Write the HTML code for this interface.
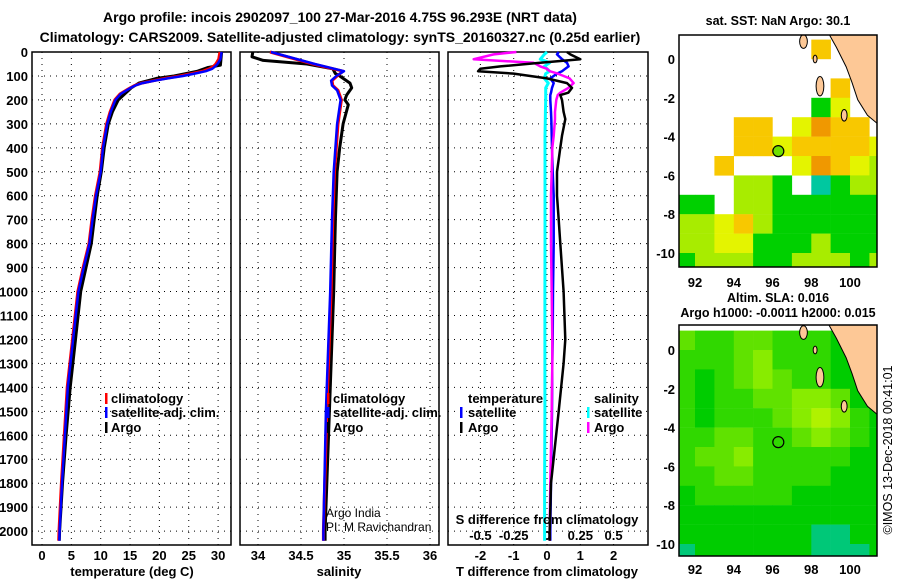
<!DOCTYPE html>
<html><head><meta charset="utf-8"><style>
body{margin:0;background:#fff;}
svg{display:block;font-family:"Liberation Sans",Arial,sans-serif;font-weight:bold;}
text{font-size:13px;fill:#000;}
</style></head><body>
<svg id="c" width="900" height="580" viewBox="0 0 900 580" xmlns="http://www.w3.org/2000/svg">
<text x="340" y="22" text-anchor="middle" style="font-size:14px">Argo profile: incois 2902097_100 27-Mar-2016 4.75S 96.293E (NRT data)</text>
<text x="340" y="42" text-anchor="middle" style="font-size:14px">Climatology: CARS2009. Satellite-adjusted climatology: synTS_20160327.nc (0.25d earlier)</text>
<g id="g"></g>
</svg>
<script>
// ---------- data ----------
const depthTicks=[0,100,200,300,400,500,600,700,800,900,1000,1100,1200,1300,1400,1500,1600,1700,1800,1900,2000];
const tempTicks=[0,5,10,15,20,25,30];
const salTicks=[34,34.5,35,35.5,36];
const salTickLabels=['34','34.5','35','35.5','36'];
const tdTicks=[-2,-1,0,1,2];
const sdTicks=[-0.5,-0.25,0,0.25,0.5];
const sdTickLabels=['-0.5','-0.25','0','0.25','0.5'];

const climDepth=[0,30,50,60,70,80,90,100,110,120,130,140,150,175,200,250,300,400,500,600,700,800,900,1000,1200,1400,1600,1800,2000,2040];
const climTemp=[30.3,30.1,29.6,29.2,28.5,27.4,25.5,23.5,21,19,17,15.8,15,13.3,12.4,11.6,11,10.3,9.9,9.1,8.5,8,7,6.1,5.2,4.3,3.8,3.3,2.9,2.85];
const satTemp=[30.6,30.4,29.9,29.5,29,27.9,26,24,21.4,19.2,17.1,15.9,15.1,13.4,12.5,11.7,11.1,10.4,10,9.2,8.6,8.1,7.1,6.2,5.3,4.4,3.9,3.4,3,2.95];
const argoDepth=[0,55,65,80,100,110,130,150,200,250,300,400,500,600,700,800,900,1000,1200,1400,1600,1800,2000,2040];
const argoTemp=[30.6,30.4,28.2,26.5,22.5,19.5,16.5,15.2,13,12,11.3,10.6,10.1,9.4,8.9,8.4,7.5,6.6,5.7,4.8,4.1,3.5,3,2.95];

const salDepth=[0,50,80,100,120,140,160,200,300,400,500,700,1000,1500,2000,2040];
const climSal=[34.14,34.64,34.99,34.92,34.86,34.87,34.93,34.97,34.93,34.91,34.89,34.87,34.85,34.8,34.76,34.76];
const satSal=[34.15,34.66,35.0,34.91,34.85,34.86,34.92,34.96,34.92,34.9,34.88,34.86,34.84,34.79,34.76,34.76];
const argoSalDepth=[0,20,35,50,70,90,100,130,150,180,200,220,300,400,500,700,1000,1500,2000,2040];
const argoSal=[33.94,33.93,34.06,34.57,34.87,34.9,34.95,35.07,35.09,35.03,35.01,35.05,34.99,34.95,34.92,34.9,34.88,34.83,34.78,34.78];

const dDepth=[0,10,30,45,60,70,80,90,110,130,150,170,180,200,250,280,350,400,500,600,700,800,1000,1200,1300,1500,1800,2000,2040];
const tDiffArgo=[0.6,0.7,1.0,-0.2,-1.4,-2.0,-2.07,-1.0,0,0.6,0.75,0.64,0.4,0.45,0.5,0.55,0.45,0.4,0.3,0.3,0.35,0.4,0.5,0.55,0.5,0.35,0.12,0.08,0.08];
const tDiffSat=[0.35,0.3,0.45,0.6,0.65,0.55,0.45,0.3,0.1,0.2,0.15,0.12,0.1,0.1,0.12,0.13,0.14,0.15,0.17,0.2,0.2,0.2,0.18,0.17,0.16,0.15,0.12,0.1,0.1];
const sDiffArgo=[-0.23,-0.4,-0.55,-0.1,-0.05,0,0.02,0.08,0.17,0.2,0.16,0.1,0.08,0.07,0.06,0.06,0.05,0.04,0.035,0.03,0.03,0.03,0.035,0.04,0.04,0.035,0.025,0.02,0.02];
const sDiffSat=[0,-0.02,-0.05,0.02,-0.02,0,0.02,-0.01,-0.02,0.01,-0.01,-0.01,-0.01,-0.01,-0.012,-0.013,-0.015,-0.015,-0.015,-0.015,-0.015,-0.015,-0.016,-0.016,-0.016,-0.016,-0.018,-0.018,-0.018];

const mapLonTicks=[92,94,96,98,100];
const mapLatTicks=[0,-2,-4,-6,-8,-10];
// SST grid: rows lat 1..-10 (top of cell), cols lon 91..101; 0 = missing
const sstGrid=[
[0,0,0,0,0,0,0,5,0,0,0],
[0,0,0,0,0,0,0,0,0,0,0],
[0,0,0,0,0,0,0,0,5,0,0],
[0,0,0,0,0,0,0,2,4,0,0],
[0,0,0,5,5,0,4,6,5,5,0],
[0,0,0,5,5,4,5,5,5,5,4],
[0,0,5,0,0,0,4,6,5,4,3],
[0,0,0,3,3,2,0,1,2,3,3],
[2,2,0,3,3,2,2,2,2,2,2],
[3,3,4,5,3,2,2,2,2,2,2],
[3,3,4,4,2,2,2,3,2,2,2],
[2,3,3,3,2,2,3,3,3,2,3]];
const slaGrid=[
[4,3,3,4,4,3,3,3,2,2,2],
[3,3,3,4,5,3,3,3,2,2,2],
[3,2,3,4,5,4,3,3,2,2,2],
[3,2,3,3,4,4,5,5,4,2,2],
[3,2,3,3,3,4,5,6,5,3,2],
[3,3,4,4,3,3,4,5,4,3,2],
[3,4,4,5,3,3,3,3,3,2,2],
[3,3,4,4,3,3,3,3,2,2,2],
[2,3,3,3,3,3,2,2,2,2,2],
[2,2,2,2,2,2,2,2,2,2,2],
[2,2,2,2,2,2,2,1,1,2,2],
[1,2,2,2,2,2,2,1,1,1,2]];
const sstColors=['none','#00c8a0','#00d000','#a8ec00','#e4f400','#f8c800','#f09800'];
const slaColors=['none','#00c878','#00cc00','#30d800','#60e200','#88ec00','#b0f200'];
const floatLon=96.3, floatLat=-4.75;

// ---------- helpers ----------
const NS='http://www.w3.org/2000/svg';
const G=document.getElementById('g');
function mk(tag,attrs,parent){const e=document.createElementNS(NS,tag);for(const k in attrs)e.setAttribute(k,attrs[k]);(parent||G).appendChild(e);return e;}
const top0=52, bot=545, ky=(bot-top0)/2058;
const yD=d=>top0+d*ky;
const xT=t=>42+t*5.87;
const xS=s=>258+(s-34)*86;
const xTD=t=>547+t*33.3;
const xSD=s=>547+s*133.2;

function frame(x0,x1,name,xt,xf,yl){
  const r=mk('rect',{x:x0,y:top0,width:x1-x0,height:bot-top0,fill:'none',stroke:'#000','stroke-width':1.5});
  
  
  depthTicks.forEach(d=>{
    const l=mk('line',{x1:x0,x2:x1,y1:yD(d),y2:yD(d),stroke:'#000','stroke-dasharray':'1,5'});
    
    
    if(yl){const t=mk('text',{x:x0-4,y:yD(d)+5,'text-anchor':'end'});t.textContent=d;
      
      }
  });
  xt.forEach(v=>{
    const l=mk('line',{x1:xf(v),x2:xf(v),y1:top0,y2:bot,stroke:'#000','stroke-dasharray':'1,5'});
    
    
  });
}
function line(xs,ds,xf,color,name,w){
  const p=xs.map((v,i)=>xf(v).toFixed(1)+','+yD(ds[i]).toFixed(1)).join(' ');
  const e=mk('polyline',{points:p,fill:'none',stroke:color,'stroke-width':w||2.5,'stroke-linejoin':'round'});
  
  
}
function txt(x,y,s,name,anchor,size){
  const t=mk('text',{x:x,y:y,'text-anchor':anchor||'start'});
  if(size)t.style.fontSize=size+'px';
  t.textContent=s;
  
  
  return t;
}
function marker(x,y,color,name){
  const e=mk('rect',{x:x,y:y-10,width:2.5,height:11,fill:color});
  
  
}

// ---------- panel 1: temperature ----------
frame(32,231,'temperature-panel',tempTicks,xT,true);
tempTicks.forEach(v=>txt(xT(v),560,String(v),'temperature-tick-label','middle'));
line(argoTemp,argoDepth,xT,'#000','argo-temperature-line',3);
line(climTemp,climDepth,xT,'#f00','climatology-temperature-line',3);
line(satTemp,climDepth,xT,'#00f','satellite-temperature-line',2.5);
txt(132,576,'temperature (deg C)','temperature-axis-title','middle');
marker(105,403,'#f00','legend-climatology-marker');txt(111,403,'climatology','legend-climatology');
marker(105,417,'#00f','legend-satellite-marker');txt(111,417,'satellite-adj. clim.','legend-satellite');
marker(105,432,'#000','legend-argo-marker');txt(111,432,'Argo','legend-argo');

// ---------- panel 2: salinity ----------
frame(240,439,'salinity-panel',salTicks,xS,false);
salTicks.forEach((v,i)=>txt(xS(v),560,salTickLabels[i],'salinity-tick-label','middle'));
line(argoSal,argoSalDepth,xS,'#000','argo-salinity-line',3);
line(climSal,salDepth,xS,'#f00','climatology-salinity-line',3);
line(satSal,salDepth,xS,'#00f','satellite-salinity-line',2.5);
txt(339,576,'salinity','salinity-axis-title','middle');
marker(327,403,'#f00','legend-sal-climatology-marker');txt(333,403,'climatology','legend-sal-climatology');
marker(327,417,'#00f','legend-sal-satellite-marker');txt(333,417,'satellite-adj. clim.','legend-sal-satellite');
marker(327,432,'#000','legend-sal-argo-marker');txt(333,432,'Argo','legend-sal-argo');
txt(326,517,'Argo India','argo-india-credit','start',12).style.fontWeight='normal';
txt(326,531,'PI: M Ravichandran','pi-credit','start',12).style.fontWeight='normal';

// ---------- panel 3: differences ----------
frame(448,648,'difference-panel',tdTicks,xTD,false);
tdTicks.forEach(v=>txt(xTD(v),560,String(v),'t-diff-tick-label','middle'));
sdTicks.forEach((v,i)=>txt(xSD(v),540,sdTickLabels[i],'s-diff-tick-label','middle'));
line(sDiffSat,dDepth,xSD,'#0ff','salinity-satellite-diff-line',3);
line(tDiffSat,dDepth,xTD,'#00f','temperature-satellite-diff-line',2.5);
line(sDiffArgo,dDepth,xSD,'#f0f','salinity-argo-diff-line',2.5);
line(tDiffArgo,dDepth,xTD,'#000','temperature-argo-diff-line',2.5);
txt(547,576,'T difference from climatology','t-diff-axis-title','middle');
txt(547,524,'S difference from climatology','s-diff-axis-title','middle');
txt(468,403,'temperature','legend-temperature-heading');
marker(460,417,'#00f','legend-t-satellite-marker');txt(468,417,'satellite','legend-t-satellite');
marker(460,432,'#000','legend-t-argo-marker');txt(468,432,'Argo','legend-t-argo');
txt(594,403,'salinity','legend-salinity-heading');
marker(587,417,'#0ff','legend-s-satellite-marker');txt(594,417,'satellite','legend-s-satellite');
marker(587,432,'#f0f','legend-s-argo-marker');txt(594,432,'Argo','legend-s-argo');

// ---------- maps ----------
function map(y0,y1,lat0y,grid,colors,name,labelY){
  const x0=679,x1=877,k=19.4;
  const X=lon=>695+(lon-92)*19.375, Y=lat=>lat0y-lat*k;
  const cid='clip-'+name;
  const cp=mk('clipPath',{id:cid});mk('rect',{x:x0,y:y0,width:x1-x0,height:y1-y0},cp);
  const g=mk('g',{'clip-path':'url(#'+cid+')'});
  
  
  grid.forEach((row,i)=>row.forEach((v,j)=>{
    if(!v)return;
    const c=mk('rect',{x:X(91+j).toFixed(1),y:Y(1-i).toFixed(1),width:19.6,height:19.6,fill:colors[v]},g);
    
    
  }));
  const landPts=[[98.85,1.4],[99.3,0.6],[99.8,-0.4],[100.1,-1.2],[100.4,-2.1],[100.9,-2.9],[101.5,-3.4],[101.5,1.4]];
  const land=mk('polygon',{points:landPts.map(p=>X(p[0])+','+Y(p[1])).join(' '),fill:'#fdc896',stroke:'#000','stroke-width':1},g);
  
  
  [[97.6,0.9,0.2,0.35],[98.45,-1.4,0.2,0.5],[99.7,-2.9,0.15,0.3],[98.2,0.0,0.1,0.2]].forEach(s=>{
    const e=mk('ellipse',{cx:X(s[0]),cy:Y(s[1]),rx:s[2]*19.4,ry:s[3]*19.4,fill:'#fdc896',stroke:'#000'},g);
    
    
  });
  const fc=mk('circle',{cx:X(floatLon),cy:Y(floatLat),r:5.5,fill:name==='sst-map'?'#70e000':'none',stroke:'#000','stroke-width':1.2});
  
  
  const r=mk('rect',{x:x0,y:y0,width:x1-x0,height:y1-y0,fill:'none',stroke:'#000','stroke-width':1.5});
  
  
  mapLonTicks.forEach(v=>txt(X(v),labelY,String(v),name+'-lon-label','middle'));
  mapLatTicks.forEach(v=>txt(x0-4,Y(v)+5,String(v),name+'-lat-label','end'));
}
map(35,267,59,sstGrid,sstColors,'sst-map',287);
map(325,556,350,slaGrid,slaColors,'sla-map',574);
txt(778,25,'sat. SST: NaN Argo: 30.1','sst-map-title','middle',12.5);
txt(778,302,'Altim. SLA: 0.016','sla-map-title','middle',12.5);
txt(778,317,'Argo h1000: -0.0011 h2000: 0.015','sla-map-subtitle','middle',12.5);
const cr=txt(0,0,'©IMOS 13-Dec-2018 00:41:01','copyright-timestamp','middle',12.5);
cr.style.fontWeight='normal';
cr.setAttribute('transform','translate(892,450) rotate(-90)');
</script>
</body></html>
